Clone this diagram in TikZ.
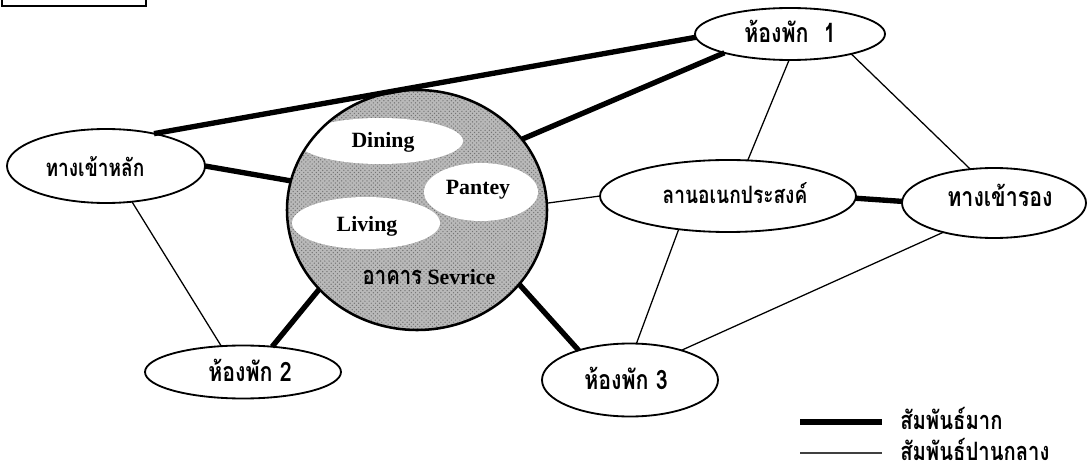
\documentclass[tikz,border=0pt]{standalone}
\usepackage{fontspec}
\setmainfont{Liberation Serif}
\newfontfamily\thai[Script=Thai,FakeStretch=0.8]{Loma}
\usetikzlibrary{shapes.geometric,patterns}
\begin{document}
\begin{tikzpicture}[x=0.025cm,y=-0.025cm,
  oval/.style n args={2}{draw,ellipse,line width=1.3pt,inner sep=0pt,outer sep=0pt,
     minimum width=#1*0.025cm,minimum height=#2*0.025cm},
  lbl/.style={inner sep=0pt,font=\thai\bfseries\fontsize{19}{21}\selectfont},
  slbl/.style={inner sep=0pt,font=\thai\bfseries\fontsize{17}{19}\selectfont},
  keylbl/.style={inner sep=0pt,font=\thai\bfseries\fontsize{18}{20}\selectfont},
  eng/.style={inner sep=0pt,font=\bfseries\fontsize{15.5}{18}\selectfont},
  strong/.style={line width=3.8pt},
  medium/.style={line width=0.9pt},
  blob/.style={fill=white}]
\useasboundingbox (0,0) rectangle (1087,472);
% top-left fragment of a frame
\draw[line width=2pt] (2,-6) rectangle (146,6);
% service building: shaded circle with white areas
\begin{scope}
  \clip (417,210) ellipse [x radius=130, y radius=120];
  \fill[gray!55] (287,90) rectangle (547,330);
  \fill[pattern=crosshatch dots, pattern color=black!55] (287,90) rectangle (547,330);
  \fill[blob] (380,141) ellipse [x radius=83, y radius=23];
  \fill[blob] (481,192) ellipse [x radius=57, y radius=29];
  \fill[blob] (366,223) ellipse [x radius=74, y radius=26];
\end{scope}
\node[oval={260}{240},line width=1.8pt] (sv) at (417,210) {};
\node[eng] (dining) at (383,142) {Dining};
\node[eng] (pantey) at (478,190) {Pantey};
\node[eng] (living) at (367,226) {Living};
\node[eng] (svlabel) at (429,277) {{\thai\fontsize{18}{20}\selectfont อาคาร} Sevrice};
% other areas
\node[oval={190}{52}] (r1) at (790,34) {};
\node[oval={198}{74}] (tl) at (106,166) {};
\node[oval={256}{72}] (ln) at (728,196) {};
\node[oval={184}{70}] (tr) at (994,203) {};
\node[oval={196}{53}] (r2) at (243,372) {};
\node[oval={176}{73}] (r3) at (630,380) {};
\node[lbl] (r1t) at (790,31) {ห้องพัก\hspace{0.3em} 1};
\node[slbl] (tlt) at (95,167) {ทางเข้าหลัก};
\node[slbl] (lnt) at (735,193) {ลานอเนกประสงค์};
\node[lbl] (trt) at (1000,195) {ทางเข้ารอง};
\node[lbl] (r2t) at (250,370) {ห้องพัก 2};
\node[lbl] (r3t) at (626,378) {ห้องพัก 3};
% strong relations
\draw[strong] (tl.34) -- (r1.182);
\draw[strong] (sv.34) -- (r1.196);
\draw[strong] (tl.0) -- (sv.167);
\draw[strong] (sv.219) -- (r2.41);
\draw[strong] (sv.324) -- (r3.150);
\draw[strong] (ln.359) -- (tr.179);
% medium relations
\draw[medium] (tl.306) -- (r2.130);
\draw[medium] (sv.3) -- (ln.180);
\draw[medium] (r1.268) -- (ln.61);
\draw[medium] (r1.342) -- (tr.125);
\draw[medium] (ln.214) -- (r3.80);
\draw[medium] (tr.210) -- (r3.30);
% legend
\coordinate (k1a) at (800,422); \coordinate (k1b) at (882,422);
\coordinate (k2a) at (800,453); \coordinate (k2b) at (882,453);
\draw[strong] (k1a) -- (k1b);
\draw[line width=1.6pt,black!75] (k2a) -- (k2b);
\node[keylbl,anchor=west] (k1t) at (900,418) {สัมพันธ์มาก};
\node[keylbl,anchor=west] (k2t) at (900,449) {สัมพันธ์ปานกลาง};
\end{tikzpicture}
\end{document}
